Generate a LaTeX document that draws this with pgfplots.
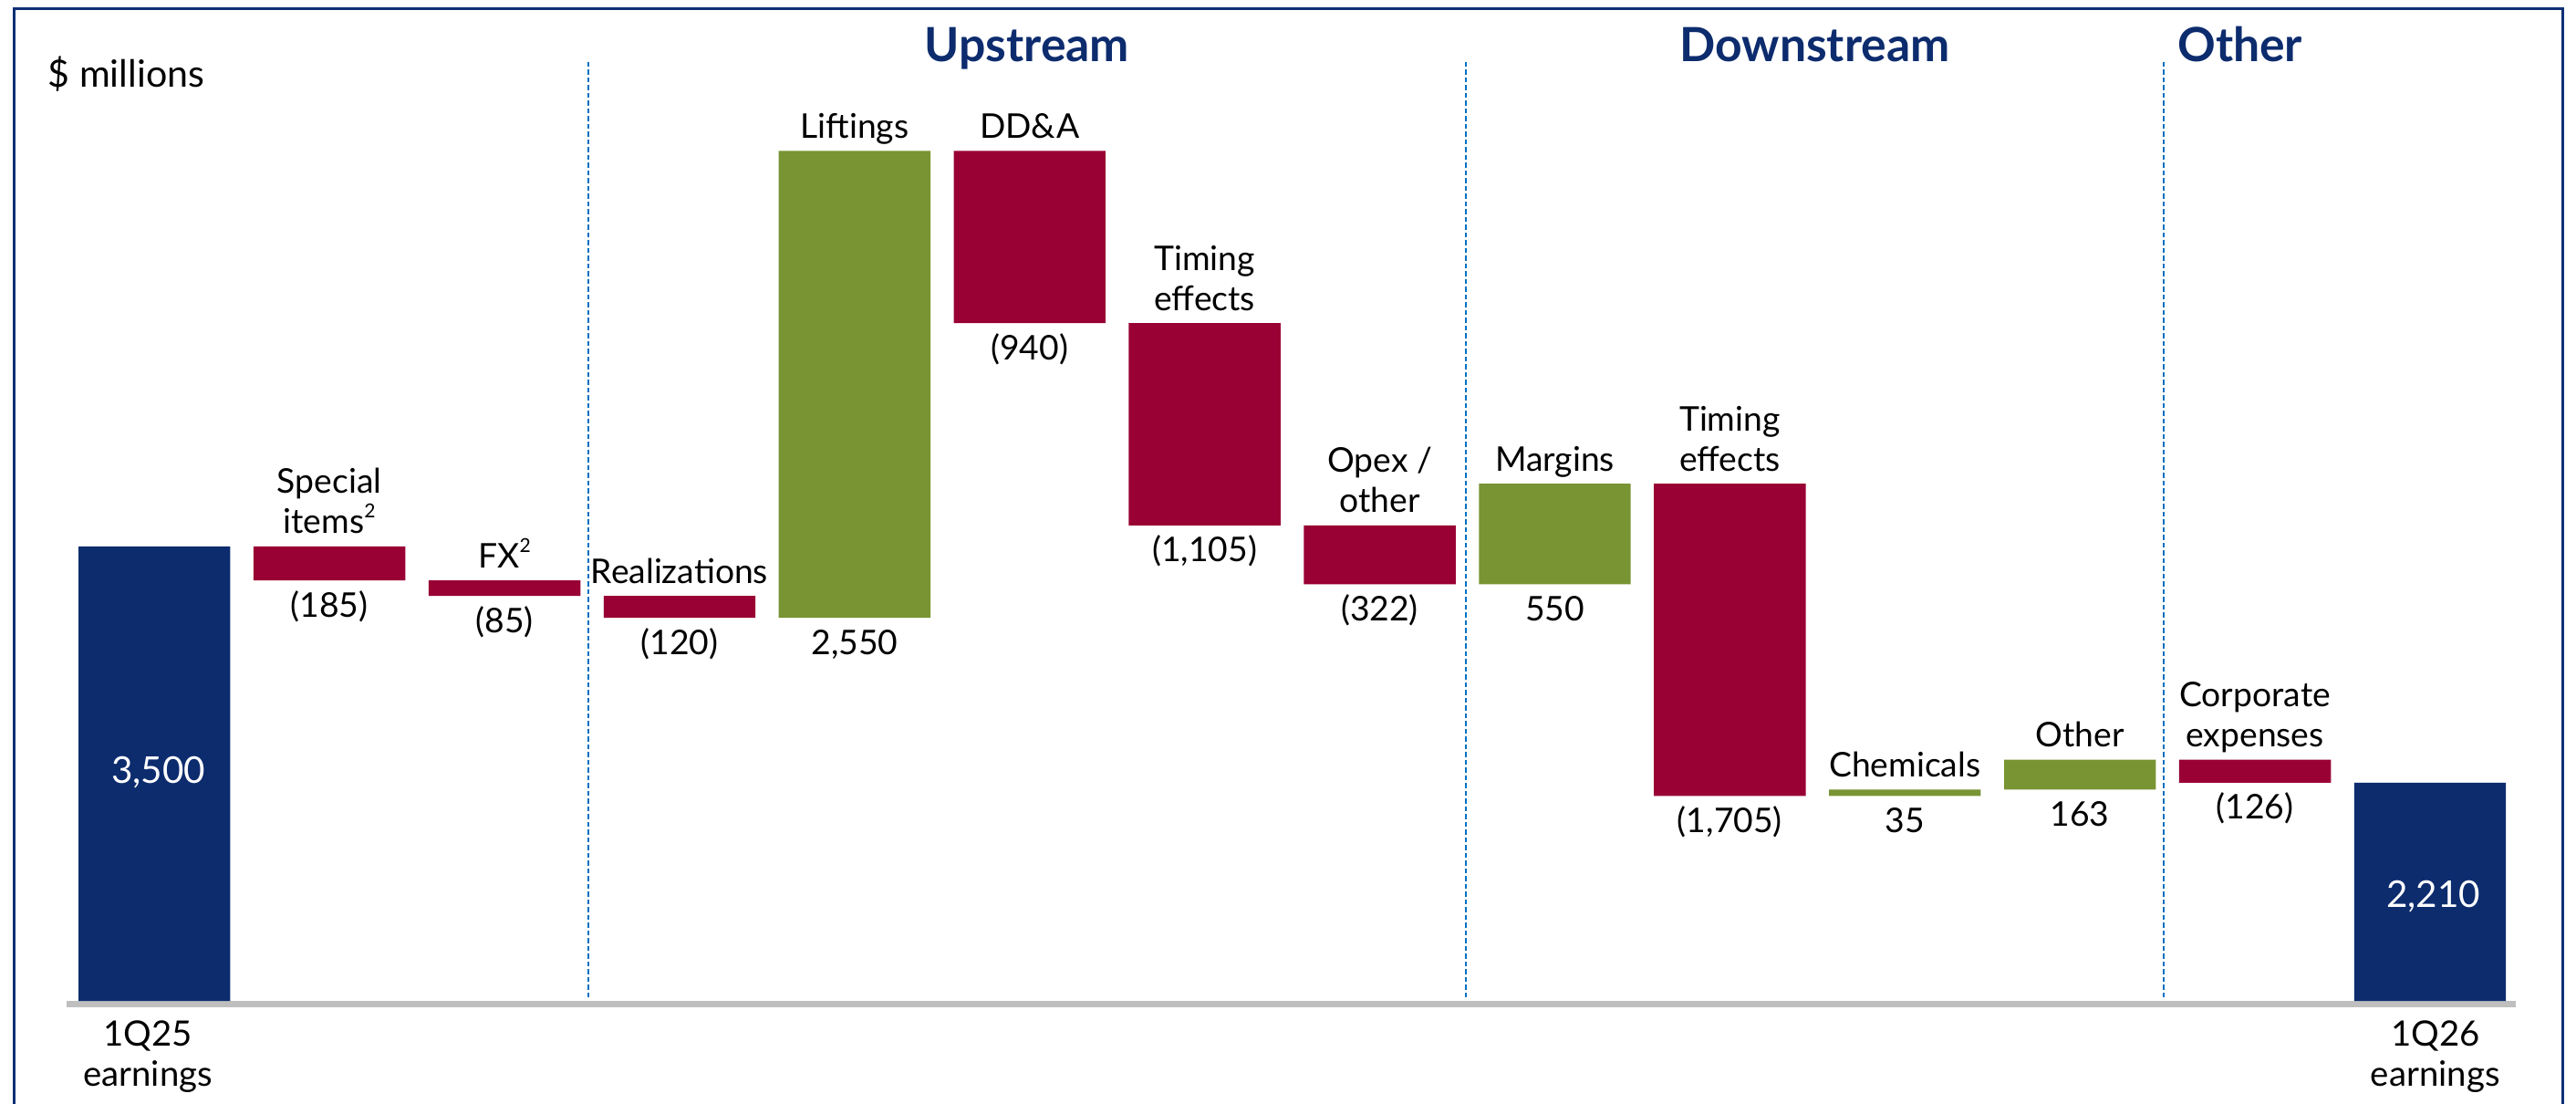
\documentclass[border=0pt]{standalone}
\usepackage{pgfplots}
\pgfplotsset{compat=1.18}
\usepackage{pgfplotstable}
\usepackage{fontspec}
\setmainfont{Lato}
\definecolor{navy}{RGB}{13,44,110}
\definecolor{wine}{RGB}{153,0,51}
\definecolor{olive}{RGB}{120,148,51}
\definecolor{sepblue}{RGB}{0,112,192}
\definecolor{framec}{RGB}{14,48,117}
\definecolor{baseg}{RGB}{191,191,191}

% waterfall: low / high end of each bar, cat 0 = total, 1 = decrease, 2 = increase
\pgfplotstableread{
x low high cat
0 1018 3500 0
1 3315 3500 1
2 3230 3315 1
3 3110 3230 1
4 3110 5660 2
5 4720 5660 1
6 3615 4720 1
7 3293 3615 1
8 3293 3843 2
9 2138 3843 1
10 2138 2173 2
11 2173 2336 2
12 2210 2336 1
13 1018 2210 0
}\wf

\newcommand\fnote[1]{\raisebox{0.9ex}{\fontsize{6pt}{6pt}\selectfont #1}}
\newcommand\lab[1]{\vbox{\baselineskip=12.5pt\lineskiplimit=-20pt\halign{\hfil##\hfil\cr#1\crcr}}}
\newcommand\nm[3]{\node[anchor=base, inner sep=0pt, yshift=1.4mm] at (axis cs:#1,#2) {\lab{#3}};}
\newcommand\vl[3]{\node[anchor=base, inner sep=0pt, yshift=-4mm] at (axis cs:#1,#2) {#3};}

\begin{document}
\fontsize{10.6pt}{12.5pt}\selectfont
\begin{tikzpicture}
\begin{axis}[
  name=ax,
  width=28.24cm, height=12.09cm, scale only axis,
  xmin=-0.882, xmax=13.834, ymin=460.4, ymax=6484,
  axis lines=none, xtick=\empty, ytick=\empty,
  ybar stacked, bar width=0.867,
  clip=false,
]
\addplot[draw=none, fill=none] table[x=x, y=low]{\wf};
\addplot[draw=none, fill=navy] table[x=x, y expr={(\thisrow{cat}==0)*(\thisrow{high}-\thisrow{low})}]{\wf};
\addplot[draw=none, fill=wine] table[x=x, y expr={(\thisrow{cat}==1)*(\thisrow{high}-\thisrow{low})}]{\wf};
\addplot[draw=none, fill=olive] table[x=x, y expr={(\thisrow{cat}==2)*(\thisrow{high}-\thisrow{low})}]{\wf};

% frame
\draw[framec, line width=0.35mm] (axis cs:-0.801,300) |- (axis cs:13.758,6437) -- (axis cs:13.758,300);
% baseline
\draw[baseg, line width=0.7mm] (axis cs:-0.502,1000.6) -- (axis cs:13.49,1000.6);
% separators
\draw[sepblue, line width=0.18mm, dash pattern=on 0.55mm off 0.3mm] (axis cs:2.48,1038) -- (axis cs:2.48,6150);
\draw[sepblue, line width=0.18mm, dash pattern=on 0.55mm off 0.3mm] (axis cs:7.49,1038) -- (axis cs:7.49,6150);
\draw[sepblue, line width=0.18mm, dash pattern=on 0.55mm off 0.3mm] (axis cs:11.48,1038) -- (axis cs:11.48,6150);

% section titles
\node[anchor=base, inner sep=0pt, text=navy, font=\fontsize{14.7pt}{16pt}\selectfont\bfseries] at (axis cs:4.985,6150) {Upstream};
\node[anchor=base, inner sep=0pt, text=navy, font=\fontsize{14.7pt}{16pt}\selectfont\bfseries] at (axis cs:9.485,6150) {Downstream};
\node[anchor=base, inner sep=0pt, text=navy, font=\fontsize{14.7pt}{16pt}\selectfont\bfseries] at (axis cs:11.915,6150) {Other};

\node[anchor=base west, inner sep=0pt, font=\fontsize{11.7pt}{13pt}\selectfont] at (axis cs:-0.611,6006) {\$ millions};

% totals: label positions (drawn after the axis, above the bars)
\coordinate (tA) at (axis cs:0.022,2209);
\coordinate (tB) at (axis cs:13.02,1527);
\node[anchor=base, inner sep=0pt, font=\fontsize{10.9pt}{12.5pt}\selectfont] at (axis cs:-0.037,555) {\lab{1Q25\cr earnings}};
\node[anchor=base, inner sep=0pt, font=\fontsize{10.9pt}{12.5pt}\selectfont] at (axis cs:13.03,555) {\lab{1Q26\cr earnings}};

% category names (above) and values (below)
\nm{1}{3500}{Special\cr items\fnote{2}}           \vl{1}{3315}{(185)}
\nm{2}{3315}{FX\fnote{2}}                         \vl{2}{3230}{(85)}
\nm{3}{3230}{Realizations}                        \vl{3}{3110}{(120)}
\nm{4}{5660}{Liftings}                            \vl{4}{3110}{2,550}
\nm{5}{5660}{DD\&A}                               \vl{5}{4720}{(940)}
\nm{6}{4720}{Timing\cr effects}                   \vl{6}{3615}{(1,105)}
\nm{7}{3615}{Opex /\cr other}                     \vl{7}{3293}{(322)}
\nm{8}{3843}{Margins}                             \vl{8}{3293}{550}
\nm{9}{3843}{Timing\cr effects}                   \vl{9}{2138}{(1,705)}
\nm{10}{2173}{Chemicals}                          \vl{10}{2138}{35}
\nm{11}{2336}{Other}                              \vl{11}{2173}{163}
\nm{12}{2336}{Corporate\cr expenses}              \vl{12}{2210}{(126)}
\end{axis}
\node[anchor=base, inner sep=0pt, text=white, font=\fontsize{11.5pt}{13pt}\selectfont] at (tA) {3,500};
\node[anchor=base, inner sep=0pt, text=white, font=\fontsize{11.5pt}{13pt}\selectfont] at (tB) {2,210};
\pgfresetboundingbox
\path[use as bounding box] (ax.south west) rectangle (ax.north east);
\end{tikzpicture}
\end{document}
